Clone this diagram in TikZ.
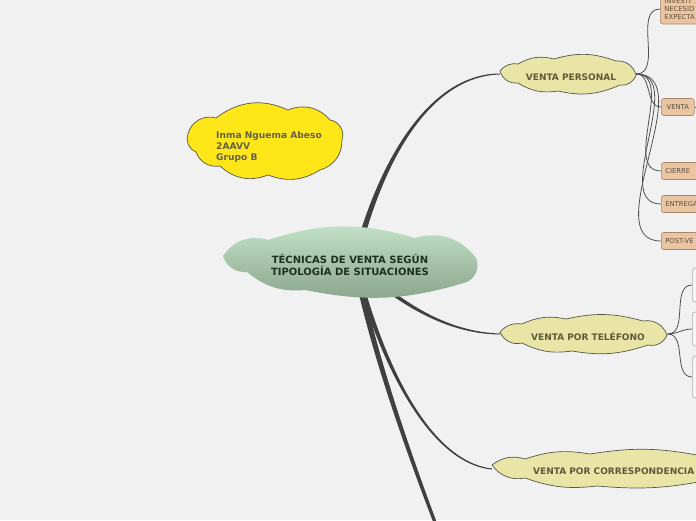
\documentclass[tikz,border=0pt]{standalone}
\usepackage{fontspec}
\setmainfont{DejaVu Sans}
\usetikzlibrary{calc}
\definecolor{bg}{RGB}{241,241,241}
\definecolor{branchc}{RGB}{64,64,64}
\definecolor{conn}{RGB}{80,80,80}
\definecolor{centtop}{RGB}{196,227,200}
\definecolor{centbot}{RGB}{136,164,138}
\definecolor{centtext}{RGB}{30,48,34}
\definecolor{cloudfill}{RGB}{233,229,166}
\definecolor{cloudtext}{RGB}{95,90,58}
\definecolor{cloudbd}{RGB}{85,85,75}
\definecolor{yelfill}{RGB}{255,230,25}
\definecolor{yeltext}{RGB}{100,96,66}
\definecolor{orfill}{RGB}{233,197,162}
\definecolor{orbd}{RGB}{165,135,105}
\definecolor{ortext}{RGB}{95,78,62}
\definecolor{telfill}{RGB}{246,246,246}
\definecolor{telbd}{RGB}{170,170,170}
\pgfdeclarelayer{bgl}
\pgfdeclarelayer{back}
\pgfsetlayers{bgl,back,main}
\newcommand\taperbranch[6]{%
 \fill[branchc] let \p1=(#1), \p2=(#2), \p3=(#3), \p4=(#4),
   \n1={atan2(\y2-\y1,\x2-\x1)}, \n2={atan2(\y4-\y3,\x4-\x3)} in
 ($(\p1)+({\n1+90}:{#5})$) .. controls ($(\p2)+({\n1+90}:{(2*#5+#6)/3})$) and ($(\p3)+({\n2+90}:{(#5+2*#6)/3})$) .. ($(\p4)+({\n2+90}:{#6})$)
 -- ($(\p4)+({\n2-90}:{#6})$) .. controls ($(\p3)+({\n2-90}:{(#5+2*#6)/3})$) and ($(\p2)+({\n1-90}:{(2*#5+#6)/3})$) .. ($(\p1)+({\n1-90}:{#5})$) -- cycle;}
\newcommand\cloudoutline[4]{%
 \path[#1] ($(#2)+(#3)$) \foreach \px/\py/\pb in {#4} { to[bend left=\pb] ($(#2)+(\px,\py)$) } -- cycle;}
\tikzset{
 centlabel/.style={align=center, text=centtext, inner sep=0pt, font=\fontsize{10}{12}\selectfont\bfseries},
 centshade/.style={top color=centtop, bottom color=centbot, draw=none},
 subshade/.style={fill=cloudfill, draw=cloudbd, line width=0.7pt},
 yelshade/.style={fill=yelfill, draw=cloudbd, line width=0.7pt},
 sublabel/.style={text=cloudtext, inner sep=0pt, font=\fontsize{9}{11}\selectfont\bfseries},
 yellabel/.style={text=yeltext, align=left, inner sep=0pt, font=\fontsize{9.1}{11}\selectfont\bfseries},
 anchorbox/.style={shape=rectangle, draw=none, inner sep=0pt},
 orbox/.style={draw=orbd, fill=orfill, rounded corners=2.5pt, font=\fontsize{6.8}{8}\selectfont, text=ortext,
   inner ysep=0pt, inner xsep=4pt, minimum height=17pt, anchor=west, line width=0.6pt},
 cutbox/.style={orbox, text width=60pt, align=left},
 telbox/.style={draw=telbd, fill=telfill, rounded corners=3pt, minimum width=40pt, anchor=west, line width=0.6pt},
 thinconn/.style={draw=conn, line width=0.8pt},
}
\begin{document}
\begin{tikzpicture}[x=1pt,y=-1pt]
\useasboundingbox (0,0) rectangle (696,520);
\clip (0,0) rectangle (696,520);
\begin{pgfonlayer}{bgl}
\fill[bg] (0,0) rectangle (696,520);
\end{pgfonlayer}

% cloud centres
\coordinate (cc) at (349,262);
\coordinate (auc) at (268,142);
\coordinate (vpc) at (568,74);
\coordinate (telc) at (584,334);
\coordinate (corrc) at (615,469);

% central cloud
\cloudoutline{centshade}{cc}{-126,-6}{-81/-22/37, 66/-24/17, 127/-4/35, 118/20/43, -44/28/14, -102/10/22, -126/-6/38}
\node[anchorbox, minimum width=254pt, minimum height=68pt] (c) at (cc) {};
\node[centlabel] (ct) at (350,265) {TÉCNICAS DE VENTA SEGÚN\\TIPOLOGÍA DE SITUACIONES};

% author cloud
\cloudoutline{yelshade}{auc}{-80,-8}{-52/-24/47, 20/-32/31, 62/-22/36, 74/-2/52, 52/28/37, 0/33/26, -48/24/32, -72/10/39, -80/-8/44}
\node[yellabel] (au) at (269,147) {Inma Nguema Abeso\\2AAVV\\Grupo B};

% VENTA PERSONAL
\cloudoutline{subshade}{vpc}{-68,-3}{-50/-10/30, -14/-15/22, 48/-13/18, 68/1/40, 52/11/40, -10/17/18, -50/9/20, -68/-3/40}
\node[anchorbox, minimum width=136pt, minimum height=38pt] (vp) at (vpc) {};
\node[sublabel] (vpt) at (571,77) {VENTA PERSONAL};

% VENTA POR TELEFONO
\cloudoutline{subshade}{telc}{-84,-2}{-62/-10/28, -18/-15/18, 59/-13/14, 83/1/40, 64/11/40, -12/17/14, -62/9/17, -84/-2/40}
\node[anchorbox, minimum width=167pt, minimum height=37pt] (tel) at (telc) {};
\node[sublabel] (telt) at (588,336) {VENTA POR TELÉFONO};

% VENTA POR CORRESPONDENCIA
\cloudoutline{subshade}{corrc}{-123,-4}{-90/-10/27, -25/-15/14, 87/-13/10, 123/1/34, 94/11/36, -18/17/8, -90/9/13, -123/-4/32}
\node[anchorbox, minimum width=246pt, minimum height=37pt] (corr) at (corrc) {};
\node[sublabel, anchor=west] (corrt) at (533,471) {VENTA POR CORRESPONDENCIA};

% branch control points
\coordinate (cs) at (355,262);
\coordinate (vpA) at (380,160);
\coordinate (vpB) at (430,75);
\coordinate (dnA) at (370,340);
\coordinate (dnB) at (400,430);
\coordinate (dnT) at (436,525);
\coordinate (coA) at (380,360);
\coordinate (coB) at (428,462);
\coordinate (teA) at (390,295);
\coordinate (teB) at (440,333);

\begin{pgfonlayer}{back}
\taperbranch{cs}{vpA}{vpB}{vp.west}{3pt}{0.5pt}
\taperbranch{cs}{dnA}{dnB}{dnT}{3pt}{1.6pt}
\taperbranch{cs}{coA}{coB}{corr.west}{2.6pt}{0.5pt}
\taperbranch{cs}{teA}{teB}{tel.west}{2.6pt}{0.5pt}
\end{pgfonlayer}

% boxes of VENTA PERSONAL
\node[cutbox, minimum height=30pt, font=\fontsize{6.8}{8}\selectfont] (b1) at (660,9) {INVESTI\\NECESID\\EXPECTA};
\node[orbox, minimum width=33pt] (b2) at (661,107) {VENTA};
\node[cutbox] (b3) at (661,171) {CIERRE};
\node[cutbox] (b4) at (661,204) {ENTREGA};
\node[cutbox] (b5) at (661,241) {POST-VE};
\coordinate (b2r) at (700,107);

\begin{pgfonlayer}{back}
\foreach \b in {b1,b2,b3,b4,b5}
  \draw[thinconn] (vp.east) to[out=0,in=180] (\b.west);
\draw[thinconn] (b2.east) -- (b2r);
\end{pgfonlayer}

% boxes of VENTA POR TELEFONO
\node[telbox, minimum height=34pt] (t1) at (692,285) {};
\node[telbox, minimum height=34pt] (t2) at (692,329) {};
\node[telbox, minimum height=42pt] (t3) at (692,377) {};
\begin{pgfonlayer}{back}
\foreach \b in {t1,t2,t3}
  \draw[thinconn] (tel.east) to[out=0,in=180] (\b.west);
\end{pgfonlayer}
\end{tikzpicture}
\end{document}
